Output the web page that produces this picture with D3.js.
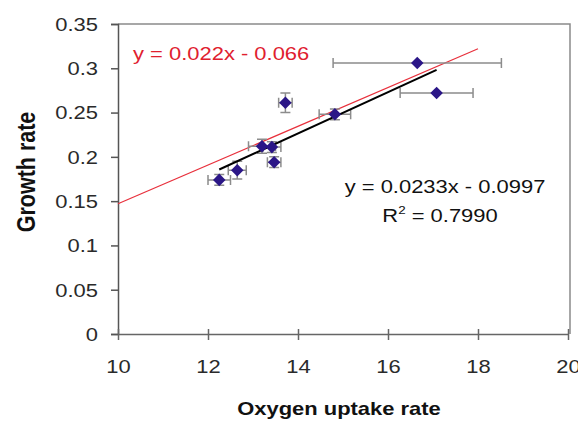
<!DOCTYPE html>
<html>
<head>
<meta charset="utf-8">
<script src="https://cdn.jsdelivr.net/npm/d3@7"></script>
<style>
  body { margin: 0; background: #fff; }
  svg { display: block; font-family: 'Liberation Sans', Arial, sans-serif; }
</style>
</head>
<body>
<div id="chart"></div>
<script>
// measured points (oxygen uptake vs growth rate) with error bars
const oxygen = [12.25, 12.65, 13.2, 13.42, 13.47, 13.72, 14.82, 16.65, 17.08];
const growth = [0.174, 0.185, 0.212, 0.211, 0.194, 0.261, 0.248, 0.306, 0.272];
const oxygenErr = [0.25, 0.2, 0.3, 0.2, 0.15, 0.15, 0.35, 1.87, 0.81];
const growthErr = [0.006, 0.01, 0.008, 0.006, 0.006, 0.011, 0.006, 0, 0];

const xTicks = [10, 12, 14, 16, 18, 20];
const yTicks = [0, 0.05, 0.1, 0.15, 0.2, 0.25, 0.3, 0.35];

// fitted line (black) and reference line (red)
const fit = { slope: 0.0233, intercept: -0.0997, x0: 12.25, x1: 17.08 };
const refLine = [[10, 0.147], [18, 0.322]];
const fitLabel = ['y = 0.0233x - 0.0997', 'R', '2', ' = 0.7990'];
const refLabel = 'y = 0.022x - 0.066';
const xTitle = 'Oxygen uptake rate';
const yTitle = 'Growth rate';

const width = 578, height = 422;
const sx = 1.22; // text in the original is a bit stretched sideways

const svg = d3.select('#chart').append('svg')
  .attr('width', width)
  .attr('height', height);

const x = d3.scaleLinear().domain([10, 20]).range([118, 568]);
const y = d3.scaleLinear().domain([0, 0.35]).range([334, 24]);

// plot frame, top and right
svg.append('path')
  .attr('d', `M118,24H570V334`)
  .attr('fill', 'none')
  .attr('stroke', '#8a8a8a')
  .attr('stroke-width', 1.5);

// y axis
const yAxis = svg.append('g')
  .attr('transform', 'translate(118,0)')
  .call(d3.axisLeft(y).tickValues(yTicks).tickSize(7).tickFormat(d => String(+d.toFixed(2))));
yAxis.select('.domain').attr('stroke', '#555').attr('stroke-width', 1.5);
yAxis.selectAll('.tick line').attr('stroke', '#555').attr('stroke-width', 1.5);
yAxis.selectAll('.tick text')
  .attr('font-size', 18)
  .attr('fill', '#2a2a2a')
  .attr('x', -20 / sx)
  .attr('dy', '0.35em')
  .attr('transform', `scale(${sx},1)`);

// x axis
const xAxis = svg.append('g')
  .attr('transform', 'translate(0,334)')
  .call(d3.axisBottom(x).tickValues(xTicks).tickSizeInner(6).tickSizeOuter(0));
xAxis.select('.domain').attr('stroke', '#666').attr('stroke-width', 1.5);
xAxis.selectAll('.tick line').attr('y1', -5).attr('stroke', '#666').attr('stroke-width', 1.5);
xAxis.selectAll('.tick text')
  .attr('font-size', 18)
  .attr('fill', '#2a2a2a')
  .attr('y', 39)
  .attr('dy', 0)
  .attr('transform', `scale(${sx},1)`);

// axis titles
svg.append('text')
  .attr('transform', `translate(339,415) scale(${sx},1)`)
  .attr('text-anchor', 'middle')
  .attr('font-size', 18)
  .attr('font-weight', 'bold')
  .attr('fill', '#111')
  .text(xTitle);

svg.append('text')
  .attr('transform', `translate(35,172) rotate(-90) scale(1,${sx})`)
  .attr('text-anchor', 'middle')
  .attr('font-size', 21.5)
  .attr('font-weight', 'bold')
  .attr('fill', '#111')
  .text(yTitle);

// red reference line
svg.append('line')
  .attr('x1', x(refLine[0][0])).attr('y1', y(refLine[0][1]))
  .attr('x2', x(refLine[1][0])).attr('y2', y(refLine[1][1]))
  .attr('stroke', '#e8303c')
  .attr('stroke-width', 1.2);

// error bars
const pts = oxygen.map((d, i) => ({ x: d, y: growth[i], ex: oxygenErr[i], ey: growthErr[i] }));
const cap = 5;
const eb = svg.append('g').attr('stroke', '#8c8c8c').attr('stroke-width', 1.5).attr('fill', 'none');
pts.forEach(p => {
  const px = x(p.x), py = y(p.y);
  if (p.ex > 0) {
    const a = x(p.x - p.ex), b = x(p.x + p.ex);
    eb.append('path').attr('d', `M${a},${py}H${b}M${a},${py - cap}V${py + cap}M${b},${py - cap}V${py + cap}`);
  }
  if (p.ey > 0) {
    const a = y(p.y + p.ey), b = y(p.y - p.ey);
    eb.append('path').attr('d', `M${px},${a}V${b}M${px - cap},${a}H${px + cap}M${px - cap},${b}H${px + cap}`);
  }
});

// black fitted line
svg.append('line')
  .attr('x1', x(fit.x0)).attr('y1', y(fit.slope * fit.x0 + fit.intercept))
  .attr('x2', x(fit.x1)).attr('y2', y(fit.slope * fit.x1 + fit.intercept))
  .attr('stroke', '#000')
  .attr('stroke-width', 2);

// diamonds
svg.selectAll('.pt')
  .data(pts)
  .enter().append('path')
  .attr('class', 'pt')
  .attr('transform', d => `translate(${x(d.x)},${y(d.y)})`)
  .attr('d', d3.symbol(d3.symbolDiamond2, 100))
  .attr('fill', '#2b1687');

// equations
svg.append('text')
  .attr('transform', `translate(133,60) scale(${sx},1)`)
  .attr('font-size', 18)
  .attr('fill', '#e0202e')
  .text(refLabel);

svg.append('text')
  .attr('transform', `translate(445,193) scale(${sx},1)`)
  .attr('text-anchor', 'middle')
  .attr('font-size', 18)
  .attr('fill', '#111')
  .text(fitLabel[0]);

const r2 = svg.append('text')
  .attr('transform', `translate(440,222) scale(${sx},1)`)
  .attr('text-anchor', 'middle')
  .attr('font-size', 18)
  .attr('fill', '#111');
r2.append('tspan').text(fitLabel[1]);
r2.append('tspan').attr('font-size', 11).attr('dy', -8).text(fitLabel[2]);
r2.append('tspan').attr('dy', 8).text(fitLabel[3]);
</script>
</body>
</html>
